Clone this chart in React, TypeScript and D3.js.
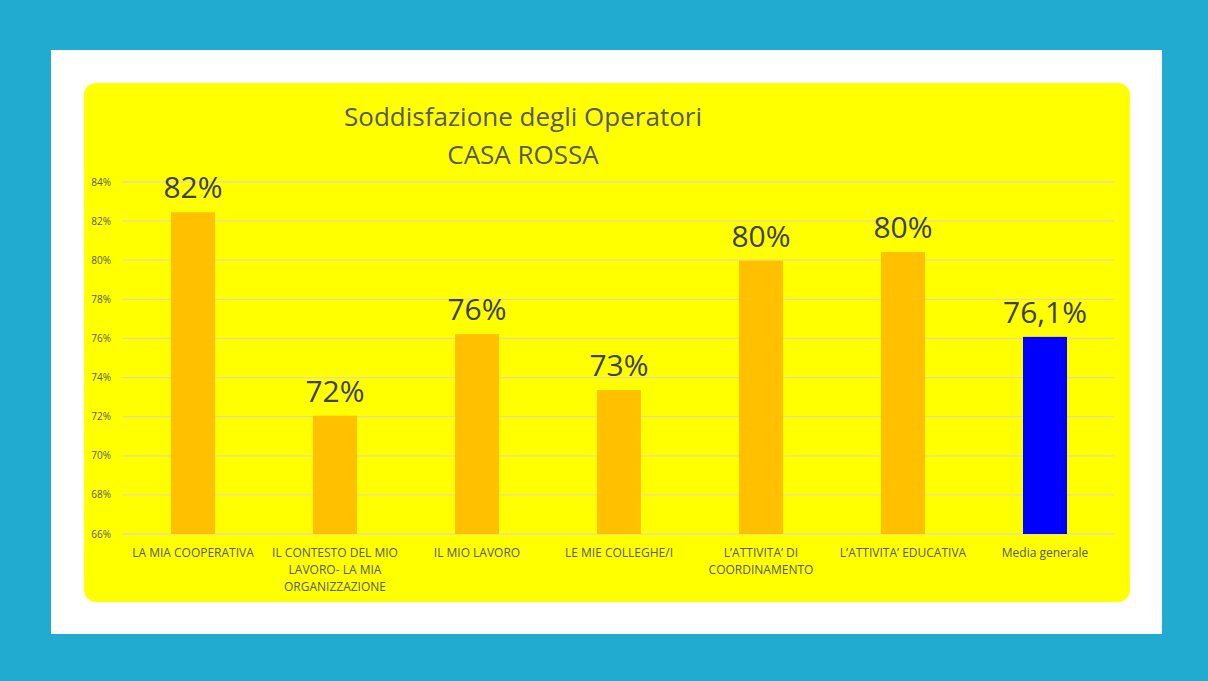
import React from "react";
import * as d3 from "d3";

const categories: string[][] = [
  ["LA MIA COOPERATIVA"],
  ["IL CONTESTO DEL MIO", "LAVORO- LA MIA", "ORGANIZZAZIONE"],
  ["IL MIO LAVORO"],
  ["LE MIE COLLEGHE/I"],
  ["L\u2019ATTIVITA\u2019 DI", "COORDINAMENTO"],
  ["L\u2019ATTIVITA\u2019 EDUCATIVA"],
  ["Media generale"],
];
const values: number[] = [82.45, 72.05, 76.22, 73.36, 79.98, 80.42, 76.08];
const valueLabels: string[] = ["82%", "72%", "76%", "73%", "80%", "80%", "76,1%"];
const barColors: string[] = ["#FFC000", "#FFC000", "#FFC000", "#FFC000", "#FFC000", "#FFC000", "#0000FF"];
const yTicks: number[] = [66, 68, 70, 72, 74, 76, 78, 80, 82, 84];

export default function App() {
  const W = 1208, H = 681;
  const font = "Open Sans, Carlito, Liberation Sans, sans-serif";
  const x = d3.scaleBand<number>().domain(d3.range(values.length)).range([122, 1116]).paddingInner(0.69).paddingOuter(0.345);
  const y = d3.scaleLinear().domain([66, 84]).range([534, 182]);
  const textCol = "#595959";
  return (
    <svg width={W} height={H} style={{ position: "absolute", left: 0, top: 0 }}>
      <rect x={0} y={0} width={W} height={H} fill="#22ABD1" />
      <rect x={51} y={50} width={1111} height={584} fill="#FFFFFF" />
      <rect x={84} y={83} width={1046} height={519} rx={12} ry={12} fill="#FFFF00" />
      <text x={523} y={126} textAnchor="middle" fontFamily={font} fontSize={26} fill="#595959">Soddisfazione degli Operatori</text>
      <text x={523} y={164} textAnchor="middle" fontFamily={font} fontSize={26} fill="#595959">CASA ROSSA</text>
      {yTicks.map((t) => (
        <g key={t}>
          <line x1={122} x2={1114} y1={y(t)} y2={y(t)} stroke="#E3DCA0" strokeWidth={1.3} />
          <text x={111} y={y(t) + 3.5} textAnchor="end" fontFamily={font} fontSize={10} fill={textCol}>{t}%</text>
        </g>
      ))}
      {values.map((v, i) => (
        <g key={i}>
          <rect x={x(i)} y={y(v)} width={x.bandwidth()} height={y(66) - y(v)} fill={barColors[i]} />
          <text x={(x(i) as number) + x.bandwidth() / 2} y={y(v) - 14} textAnchor="middle" fontFamily={font} fontSize={30} fill="#404040">{valueLabels[i]}</text>
          {categories[i].map((line, j) => (
            <text key={j} x={(x(i) as number) + x.bandwidth() / 2} y={557 + j * 17} textAnchor="middle" fontFamily={font} fontSize={12} fill={textCol}>{line}</text>
          ))}
        </g>
      ))}
    </svg>
  );
}
